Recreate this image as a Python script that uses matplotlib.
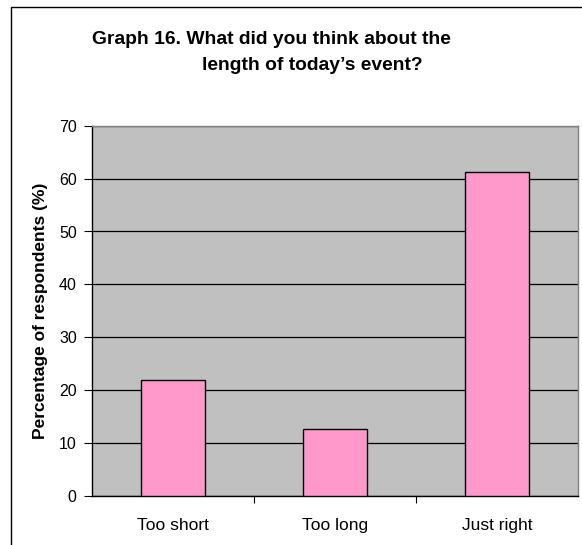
import matplotlib
matplotlib.use("Agg")
import matplotlib.pyplot as plt
from matplotlib.patches import Rectangle
import numpy as np

categories = ["Too short", "Too long", "Just right"]
values = [21.9, 12.6, 61.2]
yticks = [0, 10, 20, 30, 40, 50, 60, 70]

plt.rcParams['font.family'] = ['Liberation Sans', 'DejaVu Sans']

W, H = 582, 545
fig = plt.figure(figsize=(W/100, H/100), dpi=100)
fig.patch.set_facecolor('white')

# outer chart border
fig.add_artist(Rectangle((11/W, -0.05), 1.2, 1 - 7/H + 0.05, transform=fig.transFigure,
                         fill=False, edgecolor='black', linewidth=1.0, clip_on=False))

left, right, top, bottom = 92, 578, 125.7, 496
ax = fig.add_axes([left/W, 1 - bottom/H, (right-left)/W, (bottom-top)/H])
ax.set_facecolor('#C0C0C0')

x = np.arange(len(categories))
ax.bar(x, values, width=0.40, color='#FF99CC', edgecolor='black', linewidth=1.0, zorder=3)

ax.set_xlim(-0.5, len(categories) - 0.5)
ax.set_ylim(0, 70)
ax.set_yticks(yticks)
ax.set_yticklabels([str(v) for v in yticks], fontsize=11.5)
ax.yaxis.grid(True, color='black', linewidth=0.9, zorder=1)
ax.set_axisbelow(True)

ax.set_xticks(np.arange(0.5, len(categories) - 0.5, 1.0))
ax.set_xticklabels([])
ax.set_xticks(x, minor=True)
ax.set_xticklabels(categories, minor=True, fontsize=12.5)
ax.tick_params(axis='x', which='minor', length=0, pad=16)
ax.tick_params(axis='x', which='major', length=5, direction='out', color='black')
ax.tick_params(axis='y', length=6, direction='out', pad=5, color='black')

for s in ['top', 'right']:
    ax.spines[s].set_color('#808080')
    ax.spines[s].set_linewidth(1.0)
for s in ['left', 'bottom']:
    ax.spines[s].set_color('black')
    ax.spines[s].set_linewidth(1.0)

ax.set_ylabel("Percentage of respondents (%)", fontsize=12.5, fontweight='bold', labelpad=8)

fig.text(92/W, 1 - 40/H, "Graph 16. What did you think about the", fontsize=13.9,
         fontweight='bold', ha='left', va='center')
fig.text(202/W, 1 - 65/H, "length of today\u2019s event?", fontsize=13.9,
         fontweight='bold', ha='left', va='center')

fig.savefig("out.png", dpi=100)
